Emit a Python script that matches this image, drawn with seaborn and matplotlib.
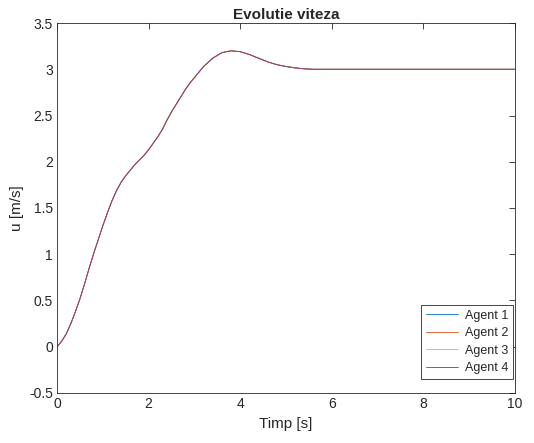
import numpy as np
import pandas as pd
import matplotlib
matplotlib.use("Agg")
import matplotlib.pyplot as plt
import seaborn as sns

t = [0, 0.1, 0.2, 0.3, 0.4, 0.5, 0.6, 0.7, 0.8, 0.9, 1.0, 1.1, 1.2, 1.3, 1.4,
     1.5, 1.6, 1.7, 1.8, 1.9, 2.0, 2.1, 2.2, 2.3, 2.4, 2.5, 2.6, 2.7, 2.8, 2.9,
     3.0, 3.2, 3.4, 3.6, 3.8, 4.0, 4.2, 4.4, 4.6, 4.8, 5.0, 5.2, 5.4, 5.6, 6.0,
     7.0, 8.0, 10.0]
u = [0, 0.06, 0.14, 0.25, 0.38, 0.52, 0.68, 0.85, 1.01, 1.16, 1.31, 1.45, 1.58,
     1.69, 1.78, 1.85, 1.91, 1.97, 2.02, 2.07, 2.13, 2.20, 2.27, 2.35, 2.45,
     2.54, 2.62, 2.70, 2.78, 2.85, 2.91, 3.03, 3.12, 3.18, 3.20, 3.19, 3.16,
     3.12, 3.08, 3.05, 3.03, 3.015, 3.005, 3.0, 3.0, 3.0, 3.0, 3.0]
agents = ["Agent 1", "Agent 2", "Agent 3", "Agent 4"]
colors = ["#0072BD", "#D95319", "#EDB120", "#7E2F8E"]

df = pd.concat([pd.DataFrame({"t": t, "u": u, "agent": a}) for a in agents],
               ignore_index=True)

sns.set_style("white")
plt.rcParams['font.family'] = ['Liberation Sans', 'DejaVu Sans']

fig = plt.figure(figsize=(5.34, 4.43), dpi=100)
ax = fig.add_axes([0.107, 0.113, 0.857, 0.835])
sns.lineplot(data=df, x="t", y="u", hue="agent", palette=colors,
             linewidth=0.6, ax=ax, estimator=None, sort=False)

ax.set_xlim(0, 10)
ax.set_ylim(-0.5, 3.5)
ax.set_xticks([0, 2, 4, 6, 8, 10])
ax.set_yticks([-0.5, 0, 0.5, 1, 1.5, 2, 2.5, 3, 3.5])
ax.set_yticklabels(["-0.5", "0", "0.5", "1", "1.5", "2", "2.5", "3", "3.5"])
ax.set_xlabel("Timp [s]", fontsize=11, color="#262626")
ax.set_ylabel("u [m/s]", fontsize=11, color="#262626")
ax.set_title("Evolutie viteza", fontsize=11, fontweight="bold", pad=3)
ax.tick_params(direction="in", top=True, right=True, length=4, width=0.6,
               labelsize=10, colors="#262626", pad=3)
for s in ax.spines.values():
    s.set_color("#262626")
    s.set_linewidth(0.6)
    s.set_visible(True)

leg = ax.legend(loc="lower right", bbox_to_anchor=(0.996, 0.038),
                fontsize=9, frameon=True, fancybox=False,
                edgecolor="#262626", framealpha=1, borderaxespad=0,
                borderpad=0.4, handlelength=2.6, handletextpad=0.5,
                labelspacing=0.43)
leg.get_frame().set_linewidth(0.6)
for line in leg.get_lines():
    line.set_linewidth(0.6)

fig.savefig("out.png", dpi=100)
